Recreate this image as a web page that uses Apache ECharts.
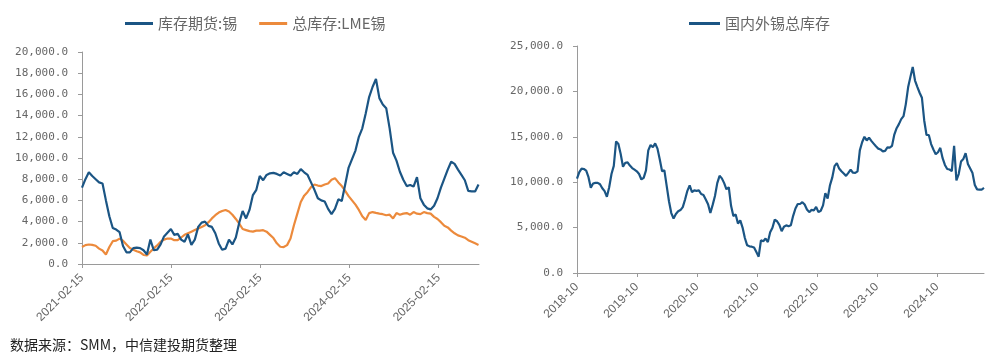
<!DOCTYPE html>
<html><head><meta charset="utf-8">
<script src="https://cdn.jsdelivr.net/npm/echarts@6/dist/echarts.min.js"></script>
<style>html,body{margin:0;padding:0;background:#fff}#c{width:994px;height:361px}</style>
</head><body><div id="c"></div>
<script>
// ---- data ----
const leftStart = [2021, 2, 15];   // first observation (year, month, day)
const rightStart = [2018, 10, 1];
const stepDays = 14;               // spacing of observations
const leftSeriesNames = ['库存期货:锡', '总库存:LME锡'];
const rightSeriesName = '国内外锡总库存';
const futuresTin = [7200,8000,8650,8300,8000,7700,7600,6000,4500,3400,
3250,3000,1700,1100,1100,1500,1550,1500,1300,900,
2300,1300,1350,1850,2600,2950,3300,2750,2850,2300,
2100,2800,1800,2300,3500,3900,4000,3600,3500,2900,
1940,1350,1450,2300,1850,2500,3900,5000,4300,5100,
6500,7000,8300,7900,8400,8550,8600,8500,8350,8650,
8500,8340,8650,8500,8950,8650,8400,7700,7000,6200,
6000,5900,5200,4700,5200,6100,5950,7500,9100,9900,
10700,12000,12800,14200,15750,16700,17450,15650,15050,14700,
12800,10500,9750,8700,7950,7350,7450,7300,8200,6200,
5600,5250,5150,5500,6200,7200,8050,8900,9650,9450,
8900,8400,7900,6900,6850,6850,7500];
const lmeTin = [1600,1780,1840,1800,1720,1450,1280,900,1600,2150,
2200,2400,2200,1850,1500,1350,1200,1100,850,800,
1150,1470,1750,2100,2300,2400,2400,2250,2250,2500,
2750,2900,3050,3200,3350,3500,3650,3950,4300,4600,
4850,5000,5100,4950,4650,4250,3800,3300,3200,3100,
3050,3150,3150,3190,3050,2750,2450,1950,1630,1600,
1780,2400,3650,4750,5850,6450,6800,7250,7500,7400,
7350,7500,7600,7950,8100,7700,7350,6900,6400,6000,
5600,5100,4500,4150,4800,4900,4820,4750,4700,4600,
4650,4300,4800,4650,4750,4800,4650,4900,4750,4700,
4900,4800,4750,4450,4250,3950,3600,3450,3150,2900,
2700,2600,2480,2250,2100,1950,1800];
const totalTin = [10400,11100,11500,11450,11280,10550,9400,9850,9930,9930,
9770,9330,9010,8390,9450,10900,11800,14500,14200,13100,
11700,12140,12180,11830,11560,11380,11200,10900,10300,10480,
11300,13500,14100,13850,14270,13700,12500,11200,11300,9600,
7900,6600,6000,6500,6800,6930,7250,8100,9050,9650,
8900,9100,9050,9100,8700,8600,8100,7580,6600,7500,
8480,9900,10700,10420,9900,9220,9450,7400,6280,6450,
5450,5800,5000,3850,3050,2940,2900,2800,2300,1800,
3600,3500,3800,3400,4500,4980,5880,5700,5300,4600,
5100,5250,5150,5250,6300,7100,7600,7600,7800,7540,
7000,6700,6950,6900,7280,6700,6850,7450,8800,8200,
9650,10500,11770,12100,11500,11200,10950,10700,11020,11380,
11040,11030,11200,13500,14400,15000,14600,14900,14550,14250,
13950,13700,13610,13400,13450,13840,13800,14000,15250,15950,
16400,16950,17270,18600,20450,21600,22700,21200,20500,19850,
19300,16800,15200,15200,14200,13600,13080,13300,13780,12650,
11900,11450,11400,11230,14000,10200,10900,12270,12550,13200,
12000,11500,11000,9700,9210,9190,9190,9370];
const leftTickLabels = ['2021-02-15','2022-02-15','2023-02-15','2024-02-15','2025-02-15'];
const rightTickLabels = ['2018-10','2019-10','2020-10','2021-10','2022-10','2023-10','2024-10'];
const sourceText = '数据来源：SMM，中信建投期货整理';

// ---- helpers ----
function dateAt(start, i) { return new Date(start[0], start[1]-1, start[2] + stepDays*i).getTime(); }
function parseLabel(s) { const p = s.split('-').map(Number); return new Date(p[0], p[1]-1, p[2]||1).getTime(); }
function pad(n){return (n<10?'0':'')+n;}
function pairs(start, arr){ return arr.map((v,i)=>[dateAt(start,i), v]); }
const leftTicks = leftTickLabels.map(parseLabel);
const rightTicks = rightTickLabels.map(parseLabel);
const fmtY = v => v.toLocaleString('en-US',{minimumFractionDigits:1,maximumFractionDigits:1});

const BLUE = '#1b5584', ORANGE = '#ec8a3c', GREY = '#666666', AXIS = '#9a9a9a';
const labelFont = 'DejaVu Sans Mono';

function xAxis(gridIndex, ticks, min, max, fmt){
  return {type:'value', gridIndex, min, max, scale:true,
    axisLine:{lineStyle:{color:AXIS}},
    axisTick:{customValues:ticks, length:4, lineStyle:{color:AXIS}},
    axisLabel:{customValues:ticks, rotate:45, color:GREY, fontSize:12, fontFamily:'Liberation Sans', margin:12, formatter:fmt},
    splitLine:{show:false}};
}
function yAxis(gridIndex, max, interval){
  return {type:'value', gridIndex, min:0, max, interval,
    axisLine:{show:true, lineStyle:{color:AXIS}},
    axisTick:{show:true, length:4, lineStyle:{color:AXIS}},
    axisLabel:{color:GREY, fontSize:11, fontFamily:labelFont, margin:14, formatter:fmtY},
    splitLine:{show:false}};
}

const chart = echarts.init(document.getElementById('c'));
chart.setOption({
  animation:false,
  backgroundColor:'#fff',
  legend:[
    {data:leftSeriesNames, left:120, top:11, icon:'rect', itemWidth:28, itemHeight:3, itemGap:22,
     textStyle:{color:GREY, fontSize:15, fontFamily:'Noto Sans CJK SC'}},
    {data:[rightSeriesName], left:684, top:11, icon:'rect', itemWidth:31, itemHeight:3,
     textStyle:{color:GREY, fontSize:15, fontFamily:'Noto Sans CJK SC'}}
  ],
  grid:[
    {left:82, top:52, width:397, height:212},
    {left:577, top:46, width:407, height:227}
  ],
  xAxis:[
    xAxis(0, leftTicks, dateAt(leftStart,0), new Date(2025,6,30).getTime(),
      v=>{const d=new Date(v);return d.getFullYear()+'-'+pad(d.getMonth()+1)+'-'+pad(d.getDate());}),
    xAxis(1, rightTicks, dateAt(rightStart,0), new Date(2025,6,14).getTime(),
      v=>{const d=new Date(v);return d.getFullYear()+'-'+pad(d.getMonth()+1);})
  ],
  yAxis:[ yAxis(0, 20000, 2000), yAxis(1, 25000, 5000) ],
  series:[
    {name:leftSeriesNames[0], type:'line', xAxisIndex:0, yAxisIndex:0, data:pairs(leftStart,futuresTin),
     symbol:'none', lineStyle:{color:BLUE, width:2.2}, itemStyle:{color:BLUE}, z:3},
    {name:leftSeriesNames[1], type:'line', xAxisIndex:0, yAxisIndex:0, data:pairs(leftStart,lmeTin),
     symbol:'none', lineStyle:{color:ORANGE, width:2.2}, itemStyle:{color:ORANGE}, z:2},
    {name:rightSeriesName, type:'line', xAxisIndex:1, yAxisIndex:1, data:pairs(rightStart,totalTin),
     symbol:'none', lineStyle:{color:BLUE, width:2.2}, itemStyle:{color:BLUE}}
  ],
  graphic:[{type:'text', left:10, top:338, style:{text:sourceText, fill:'#222', fontSize:14, fontFamily:'Noto Sans CJK SC'}}]
});
</script></body></html>
